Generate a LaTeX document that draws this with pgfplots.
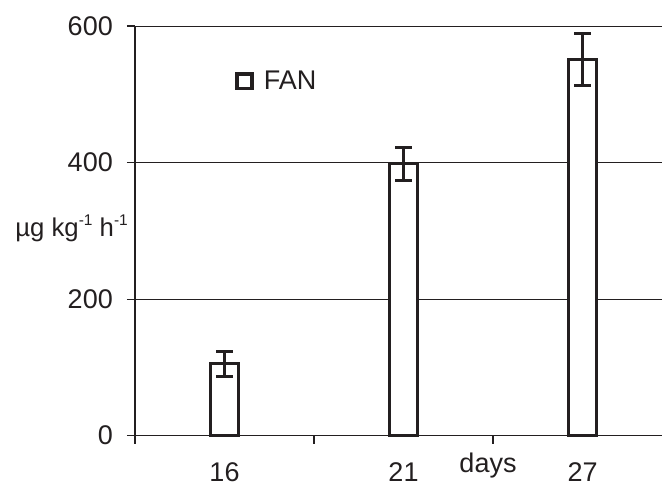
\documentclass[border=0pt]{standalone}
\usepackage{pgfplots}
\pgfplotsset{compat=1.18}
\usepackage{fontspec}
\setmainfont{Liberation Sans}
\definecolor{ink}{HTML}{231F20}
\newcommand{\bigf}{\fontsize{27}{31}\selectfont}
\newcommand{\sups}[1]{\raisebox{11pt}{\fontsize{15.5}{17}\selectfont #1}}
\begin{document}
\begin{tikzpicture}[x=1pt,y=1pt]
\useasboundingbox (0,0) rectangle (662,485);
\begin{axis}[
  at={(135pt,49.3pt)}, anchor=south west,
  scale only axis, width=527pt, height=409.7pt,
  xmin=-0.5, xmax=2.444, ymin=0, ymax=600,
  clip=false,
  axis x line*=bottom, axis y line*=left,
  axis line style={ink, line width=1.3pt},
  ybar, bar width=28pt,
  xtick={-0.5,0.5,1.5}, xticklabels={},
  extra x ticks={0,1,2}, extra x tick labels={16,21,27},
  extra x tick style={major tick length=0pt,
    xticklabel style={anchor=base, yshift=-45.3pt, inner sep=0pt}},
  ytick={0,200,400,600},
  ymajorgrids, grid style={ink, line width=0.9pt},
  tick align=outside, major tick length=8pt,
  tick style={ink, line width=1.2pt},
  /pgf/number format/assume math mode=true,
  tick label style={font=\bigf, text=ink},
  yticklabel style={anchor=east, inner sep=0pt, xshift=-14pt},
  legend style={draw=none, fill=none, at={(0.19,0.865)}, anchor=west,
    inner sep=0pt, font=\bigf, text=ink},
  legend image code/.code={\draw[line width=3.2pt, ink, fill=white] (1.6pt,-7.4pt) rectangle (16.6pt,7.4pt); \path (25pt,0pt);},
]
\addplot[draw=ink, fill=white, line width=3pt,
  error bars/.cd, y dir=both, y explicit,
  error bar style={line width=3pt, ink},
  error mark options={rotate=90, mark size=8.3pt, line width=3pt, ink}]
  coordinates {(0,105.7) +- (0,18.3) (1,398) +- (0,24) (2,550.5) +- (0,38)};
\addlegendentry{FAN}
\node[anchor=base, inner sep=0pt, font=\bigf, text=ink] at (axis cs:1.472,0) [yshift=-36.9pt] {days};
\node[anchor=base east, inner sep=0pt, font=\fontsize{25.7}{30}\selectfont, text=ink] at (rel axis cs:0,0.4874) [xshift=-7pt] {µg kg\sups{-1} h\sups{-1}};
\end{axis}
\end{tikzpicture}
\end{document}
